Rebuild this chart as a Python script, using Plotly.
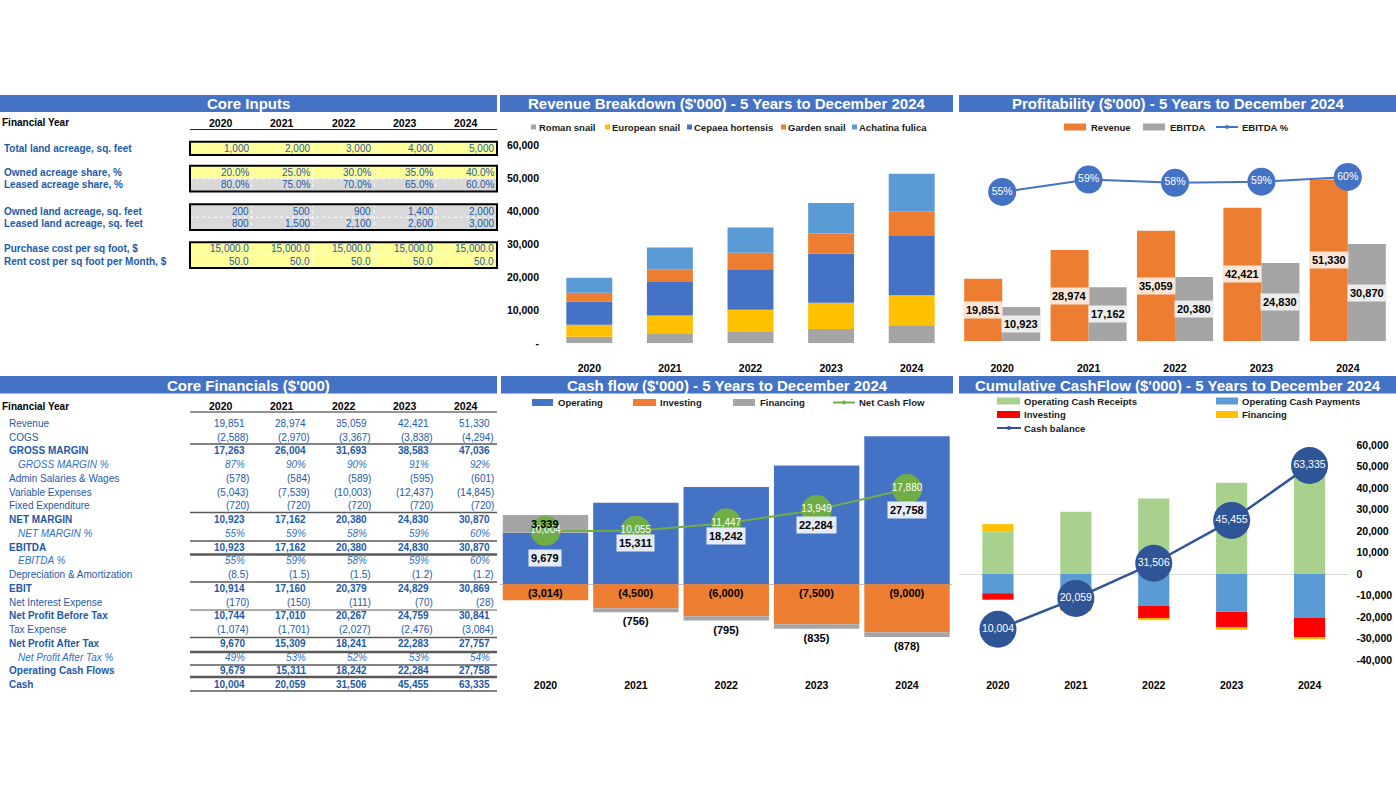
import plotly.graph_objects as go

W, H = 1396, 786
FONT = "Liberation Sans"
BLUE_TXT = "#1E5AA8"

years = ["2020", "2021", "2022", "2023", "2024"]

# ---------------- Core inputs ----------------
input_labels = ["Total land acreage, sq. feet", "Owned acreage share, %", "Leased acreage share, %",
                "Owned land acreage, sq. feet", "Leased land acreage, sq. feet",
                "Purchase cost per sq foot, $", "Rent cost per sq foot per Month, $"]
total_land = [1000, 2000, 3000, 4000, 5000]
owned_share = [20.0, 25.0, 30.0, 35.0, 40.0]
leased_share = [80.0, 75.0, 70.0, 65.0, 60.0]
owned_land = [200, 500, 900, 1400, 2000]
leased_land = [800, 1500, 2100, 2600, 3000]
purchase_cost = [15000.0, 15000.0, 15000.0, 15000.0, 15000.0]
rent_cost = [50.0, 50.0, 50.0, 50.0, 50.0]

# ---------------- Core financials ($'000) ----------------
fin_labels = ["Revenue", "COGS", "GROSS MARGIN", "GROSS MARGIN %", "Admin Salaries & Wages",
              "Variable Expenses", "Fixed Expenditure", "NET MARGIN", "NET MARGIN %", "EBITDA",
              "EBITDA %", "Depreciation & Amortization", "EBIT", "Net Interest Expense",
              "Net Profit Before Tax", "Tax Expense", "Net Profit After Tax", "Net Profit After Tax %",
              "Operating Cash Flows", "Cash"]
revenue = [19851, 28974, 35059, 42421, 51330]
cogs = [-2588, -2970, -3367, -3838, -4294]
gross_margin = [17263, 26004, 31693, 38583, 47036]
gross_margin_pct = [87, 90, 90, 91, 92]
admin_wages = [-578, -584, -589, -595, -601]
variable_exp = [-5043, -7539, -10003, -12437, -14845]
fixed_exp = [-720, -720, -720, -720, -720]
net_margin = [10923, 17162, 20380, 24830, 30870]
net_margin_pct = [55, 59, 58, 59, 60]
ebitda = [10923, 17162, 20380, 24830, 30870]
ebitda_pct = [55, 59, 58, 59, 60]
depreciation = [-8.5, -1.5, -1.5, -1.2, -1.2]
ebit = [10914, 17160, 20379, 24829, 30869]
net_interest = [-170, -150, -111, -70, -28]
profit_before_tax = [10744, 17010, 20267, 24759, 30841]
tax_expense = [-1074, -1701, -2027, -2476, -3084]
profit_after_tax = [9670, 15309, 18241, 22283, 27757]
profit_after_tax_pct = [49, 53, 52, 53, 54]
operating_cash_flows = [9679, 15311, 18242, 22284, 27758]
cash = [10004, 20059, 31506, 45455, 63335]

# ---------------- Revenue breakdown ($'000) ----------------
roman_snail = [2000, 3040, 3644, 4350, 5470]
european_snail = [3650, 5360, 6480, 7900, 9105]
cepaea_hortensis = [7000, 10120, 12250, 14880, 18115]
garden_snail = [2630, 3850, 5060, 6070, 7290]
achatina_fulica = [4571, 6604, 7625, 9221, 11350]
rev_ticks = [0, 10000, 20000, 30000, 40000, 50000, 60000]
rev_ticktext = ["-", "10,000", "20,000", "30,000", "40,000", "50,000", "60,000"]

# ---------------- Cash flow ($'000) ----------------
cf_operating = [9679, 15311, 18242, 22284, 27758]
cf_investing = [-3014, -4500, -6000, -7500, -9000]
cf_financing = [3339, -756, -795, -835, -878]
net_cash_flow = [10004, 10055, 11447, 13949, 17880]

# ---------------- Cumulative cash flow ($'000) ----------------
op_cash_receipts = [19851, 28974, 35059, 42421, 51330]
op_cash_payments = [-8929, -11813, -14679, -17590, -20460]
cum_investing = [-3014, -4500, -6000, -7500, -9000]
cum_financing = [3339, -756, -795, -835, -878]
cash_balance = [10004, 20059, 31506, 45455, 63335]
cum_ticks = [60000, 50000, 40000, 30000, 20000, 10000, 0, -10000, -20000, -30000, -40000]
cum_ticktext = ["60,000", "50,000", "40,000", "30,000", "20,000", "10,000", "0",
                "-10,000", "-20,000", "-30,000", "-40,000"]


def fmt_num(v, dec=0):
    s = f"{abs(v):,.{dec}f}"
    return f"({s})" if v < 0 else s


def px(x):
    return x / W


def py(y):
    return 1 - y / H


shapes = []
annotations = []


def rect(x0, y0, x1, y1, fill=None, line_color=None, lw=0):
    shapes.append(dict(type="rect", xref="paper", yref="paper", x0=px(x0), x1=px(x1),
                       y0=py(y1), y1=py(y0), fillcolor=fill or "rgba(0,0,0,0)",
                       line=dict(color=line_color or "rgba(0,0,0,0)", width=lw), layer="below"))


def line(x0, y0, x1, y1, color, width=1, dash=None, layer="above"):
    d = dict(color=color, width=width)
    if dash:
        d["dash"] = dash
    shapes.append(dict(type="line", xref="paper", yref="paper", x0=px(x0), x1=px(x1),
                       y0=py(y0), y1=py(y1), line=d, layer=layer))


def text(x, y, t, size=10, color="#000000", xanchor="left", bold=False, italic=False, **kw):
    if bold:
        t = f"<b>{t}</b>"
    if italic:
        t = f"<i>{t}</i>"
    annotations.append(dict(x=px(x), y=py(y), xref="paper", yref="paper", text=t, showarrow=False,
                            xanchor=xanchor, yanchor="middle",
                            font=dict(size=size, color=color, family=FONT), **kw))


# ---------------- Section headers ----------------
headers = [(0, 497, 95, 112, "Core Inputs"),
           (500, 953, 95, 112, "Revenue Breakdown ($'000) - 5 Years to December 2024"),
           (959, 1396, 95, 112, "Profitability ($'000) - 5 Years to December 2024"),
           (0, 497, 376, 393.5, "Core Financials ($'000)"),
           (501, 953, 376, 393.5, "Cash flow ($'000) - 5 Years to December 2024"),
           (959, 1396, 376, 393.5, "Cumulative CashFlow ($'000) - 5 Years to December 2024")]
for x0, x1, y0, y1, t in headers:
    rect(x0, y0, x1, y1, fill="#4472C4")
    text((x0 + x1) / 2, (y0 + y1) / 2 + 0.5, t, size=15, color="#FFFFFF", xanchor="center", bold=True)

# ---------------- Core inputs table ----------------
col_left = 190
col_w = 61.4
col_centers = [col_left + col_w * (j + 0.5) for j in range(5)]
col_rights = [249.5, 311, 372, 433.5, 495]

text(0, 123, "Financial Year", size=10, bold=True)
for j, yr in enumerate(years):
    text(col_centers[j], 123, yr, size=10.5, xanchor="center", bold=True)
line(190, 129.5, 497, 129.5, "#262626", 1)

input_values = [total_land, owned_share, leased_share, owned_land, leased_land, purchase_cost, rent_cost]
input_fmts = ["{:,.0f}", "{:.1f}%", "{:.1f}%", "{:,.0f}", "{:,.0f}", "{:,.1f}", "{:,.1f}"]
input_row_y = [148.5, 172.5, 185, 211, 223.5, 249, 261.5]
input_fill = ["#FFFF99", "#FFFF99", "#D9D9D9", "#D9D9D9", "#D9D9D9", "#FFFF99", "#FFFF99"]
for i, lab in enumerate(input_labels):
    y = input_row_y[i]
    rect(190, y - 6.5, 497, y + 6.3, fill=input_fill[i])
    text(2, y, lab, size=10, color=BLUE_TXT, bold=True)
    for j in range(5):
        text(col_rights[j] + 1, y, input_fmts[i].format(input_values[i][j]), size=10,
             color=BLUE_TXT, xanchor="right")
for (a, b) in [(0, 0), (1, 2), (3, 4), (5, 6)]:
    y0, y1 = input_row_y[a] - 6.8, input_row_y[b] + 6.6
    for j in range(1, 5):
        line(col_left + col_w * j, y0, col_left + col_w * j, y1, "#FFFFFF", 1, dash="dot")
    if b > a:
        line(190, (input_row_y[a] + input_row_y[b]) / 2, 497, (input_row_y[a] + input_row_y[b]) / 2,
             "#FFFFFF", 1, dash="dot")
    shapes.append(dict(type="rect", xref="paper", yref="paper", x0=px(190), x1=px(497),
                       y0=py(y1), y1=py(y0), line=dict(color="#000000", width=2), layer="above"))

# ---------------- Core financials table ----------------
fin_values = [revenue, cogs, gross_margin, gross_margin_pct, admin_wages, variable_exp, fixed_exp,
              net_margin, net_margin_pct, ebitda, ebitda_pct, depreciation, ebit, net_interest,
              profit_before_tax, tax_expense, profit_after_tax, profit_after_tax_pct,
              operating_cash_flows, cash]
bold_rows = {2, 7, 9, 12, 14, 16, 18, 19}
italic_rows = {3, 8, 10, 17}
dec_rows = {11}

text(0, 406, "Financial Year", size=10, bold=True)
for j, yr in enumerate(years):
    text(col_centers[j], 406, yr, size=10.5, xanchor="center", bold=True)
line(190, 412, 497, 412, "#262626", 1)

for i, lab in enumerate(fin_labels):
    y = 423.3 + 13.75 * i
    is_b, is_i = i in bold_rows, i in italic_rows
    text(16 if is_i else 7, y, lab, size=10, color="#2F6FC0" if is_i else BLUE_TXT,
         bold=is_b, italic=is_i)
    for j in range(5):
        v = fin_values[i][j]
        if is_i:
            s = f"{v}%"
        else:
            s = fmt_num(v, 1 if i in dec_rows else 0)
        xr = col_rights[j] + 1 if s.endswith(")") else col_rights[j] - 2.7
        text(xr, y, s, size=10, color="#2F6FC0" if is_i else BLUE_TXT, xanchor="right",
             bold=is_b, italic=is_i)

for y, w in [(444, 1.5), (512.5, 1.5), (541, 1.5), (554.5, 2.5), (582, 1.5), (610, 1.2),
             (637.5, 1.5), (652, 2.5), (665, 1.5), (677, 2.5), (691, 1.5)]:
    line(190, y, 497, y, "#595959", w)

# ---------------- Manual legends ----------------
LEG = dict(size=9.5, color="#1A1A1A", bold=True)


def leg_box(x0, x1, y, color, h=6):
    shapes.append(dict(type="rect", xref="paper", yref="paper", x0=px(x0), x1=px(x1),
                       y0=py(y + h / 2), y1=py(y - h / 2), fillcolor=color, line=dict(width=0)))


def leg_line(x0, x1, y, color):
    line(x0, y, x1, y, color, 2)
    shapes.append(dict(type="circle", xref="paper", yref="paper", x0=px((x0 + x1) / 2 - 2),
                       x1=px((x0 + x1) / 2 + 2), y0=py(y + 2), y1=py(y - 2), fillcolor=color,
                       line=dict(width=0)))


for sx, col, lab, tx in [(531, "#A5A5A5", "Roman snail", 537), (605, "#FFC000", "European snail", 610),
                         (687, "#4472C4", "Cepaea hortensis", 692), (781, "#ED7D31", "Garden snail", 786),
                         (852, "#5B9BD5", "Achatina fulica", 857)]:
    leg_box(sx, sx + 5, 127, col, h=5)
    text(tx, 127, lab, **LEG)

leg_box(1064, 1086, 127, "#ED7D31", h=7)
text(1089, 127, "Revenue", **LEG)
leg_box(1143, 1165, 127, "#A5A5A5", h=7)
text(1168, 127, "EBITDA", **LEG)
leg_line(1216, 1238, 127, "#4472C4")
text(1240, 127, "EBITDA %", **LEG)

leg_box(532, 553, 402.5, "#4472C4", h=7)
text(556, 402.5, "Operating", **LEG)
leg_box(633, 656, 402.5, "#ED7D31", h=7)
text(658, 402.5, "Investing", **LEG)
leg_box(733, 755, 402.5, "#A5A5A5", h=7)
text(758, 402.5, "Financing", **LEG)
leg_line(833, 855, 402.5, "#70AD47")
text(857, 402.5, "Net Cash Flow", **LEG)

leg_box(997, 1020, 401, "#A9D18E", h=7)
text(1022, 401, "Operating Cash Receipts", **LEG)
leg_box(1216, 1238, 401, "#5B9BD5", h=7)
text(1240, 401, "Operating Cash Payments", **LEG)
leg_box(997, 1020, 414.5, "#FF0000", h=7)
text(1022, 414.5, "Investing", **LEG)
leg_box(1216, 1238, 414.5, "#FFC000", h=7)
text(1240, 414.5, "Financing", **LEG)
leg_line(997, 1021, 428, "#2F5597")
text(1022, 428, "Cash balance", **LEG)

# ---------------- Traces ----------------
fig = go.Figure()

# Revenue breakdown (stacked)
for name, vals, col in [("Roman snail", roman_snail, "#A5A5A5"), ("European snail", european_snail, "#FFC000"),
                        ("Cepaea hortensis", cepaea_hortensis, "#4472C4"), ("Garden snail", garden_snail, "#ED7D31"),
                        ("Achatina fulica", achatina_fulica, "#5B9BD5")]:
    fig.add_trace(go.Bar(x=years, y=vals, name=name, marker=dict(color=col, line=dict(width=0)),
                         width=0.57, xaxis="x", yaxis="y", hoverinfo="skip"))

# Profitability (grouped)
fig.add_trace(go.Bar(x=years, y=revenue, name="Revenue", marker=dict(color="#ED7D31", line=dict(width=0)),
                     offsetgroup="rev", width=0.44, offset=-0.44, xaxis="x2", yaxis="y2"))
fig.add_trace(go.Bar(x=years, y=ebitda, name="EBITDA", marker=dict(color="#A5A5A5", line=dict(width=0)),
                     offsetgroup="ebitda", width=0.44, offset=0.0, xaxis="x2", yaxis="y2"))
fig.add_trace(go.Scatter(x=years, y=[e / r for e, r in zip(ebitda, revenue)], name="EBITDA %",
                         mode="lines+markers+text", text=[f"{v}%" for v in ebitda_pct],
                         textposition="middle center", textfont=dict(color="#FFFFFF", size=10.5, family=FONT),
                         marker=dict(size=28, color="#4472C4"), line=dict(color="#4472C4", width=2),
                         cliponaxis=False, xaxis="x2", yaxis="y3"))

# Cash flow (relative stack)
fig.add_trace(go.Bar(x=years, y=cf_operating, name="Operating", marker=dict(color="#4472C4", line=dict(width=0)),
                     width=0.945, xaxis="x4", yaxis="y4"))
fig.add_trace(go.Bar(x=years, y=cf_investing, name="Investing", marker=dict(color="#ED7D31", line=dict(width=0)),
                     width=0.945, xaxis="x4", yaxis="y4", text=[fmt_num(v) for v in cf_investing],
                     textposition="inside", insidetextanchor="start", constraintext="none",
                     textfont=dict(color="#000000", size=11, family=FONT, weight="bold")))
fig.add_trace(go.Bar(x=years, y=cf_financing, name="Financing", marker=dict(color="#A5A5A5", line=dict(width=0)),
                     width=0.945, xaxis="x4", yaxis="y4",
                     text=["" if v > 0 else fmt_num(v) for v in cf_financing],
                     textposition="outside", constraintext="none", cliponaxis=False,
                     textfont=dict(color="#000000", size=11, family=FONT, weight="bold")))
fig.add_trace(go.Scatter(x=years, y=net_cash_flow, name="Net Cash Flow", mode="lines+markers+text",
                         text=[fmt_num(v) for v in net_cash_flow], textposition="middle center",
                         textfont=dict(color="#FFFFFF", size=10, family=FONT),
                         marker=dict(size=30, color="#70AD47"), line=dict(color="#70AD47", width=2),
                         cliponaxis=False, xaxis="x4", yaxis="y4"))

# Cumulative cash flow
for name, vals, col in [("Operating Cash Receipts", op_cash_receipts, "#A9D18E"),
                        ("Operating Cash Payments", op_cash_payments, "#5B9BD5"),
                        ("Investing", cum_investing, "#FF0000"),
                        ("Financing", cum_financing, "#FFC000")]:
    fig.add_trace(go.Bar(x=years, y=vals, name=name, marker=dict(color=col, line=dict(width=0)),
                         width=0.4, xaxis="x5", yaxis="y5"))
fig.add_trace(go.Scatter(x=years, y=cash_balance, name="Cash balance", mode="lines+markers+text",
                         text=[fmt_num(v) for v in cash_balance], textposition="middle center",
                         textfont=dict(color="#FFFFFF", size=10.5, family=FONT),
                         marker=dict(size=37, color="#2F5597"), line=dict(color="#2F5597", width=2.5),
                         cliponaxis=False, xaxis="x5", yaxis="y6"))

# ---------------- Bar label annotations (x = category index) ----------------
for i, yr in enumerate(years):
    annotations.append(dict(x=i, y=revenue[i] / 2, xref="x2", yref="y2", xshift=-19, showarrow=False,
                            text=f"<b>{revenue[i]:,}</b>", bgcolor="#FBE5D6", borderpad=2,
                            font=dict(size=11, color="#000000", family=FONT)))
    annotations.append(dict(x=i, y=ebitda[i] / 2, xref="x2", yref="y2", xshift=19, showarrow=False,
                            text=f"<b>{ebitda[i]:,}</b>", bgcolor="#EDEDED", borderpad=2,
                            font=dict(size=11, color="#000000", family=FONT)))
    annotations.append(dict(x=i, y=cf_operating[i] / 2, xref="x4", yref="y4", showarrow=False,
                            text=f"<b>{cf_operating[i]:,}</b>", bgcolor="#E6ECF7", borderpad=2,
                            font=dict(size=11, color="#000000", family=FONT)))
    if cf_financing[i] > 0:
        annotations.append(dict(x=i, y=cf_operating[i] + cf_financing[i] / 2, xref="x4", yref="y4",
                                showarrow=False, text=f"<b>{fmt_num(cf_financing[i])}</b>",
                                font=dict(size=11, color="#000000", family=FONT)))

# ---------------- Layout ----------------
bold_tick = dict(size=10.5, color="#000000", family=FONT, weight="bold")


def dx(a, b):
    return [a / W, b / W]


def dy(top, bottom):
    return [1 - bottom / H, 1 - top / H]


common_x = dict(type="category", showgrid=False, zeroline=False, showline=False, ticks="",
                tickfont=bold_tick, fixedrange=True, range=[-0.5, 4.5], autorange=False)

fig.update_layout(
    width=W, height=H, autosize=False,
    margin=dict(l=0, r=0, t=0, b=0, pad=0, autoexpand=False),
    paper_bgcolor="#FFFFFF", plot_bgcolor="rgba(0,0,0,0)",
    font=dict(family=FONT, color="#000000"),
    showlegend=False, barmode="relative", bargap=0.12,
    xaxis=dict(common_x, domain=dx(549, 952), anchor="y", ticklabelstandoff=17),
    yaxis=dict(domain=dy(145, 343.3), anchor="x", range=[0, 60000], tickvals=rev_ticks,
               ticktext=rev_ticktext, tickfont=bold_tick, showgrid=False, zeroline=False,
               showline=False, ticks="", ticklabelstandoff=9),
    xaxis2=dict(common_x, domain=dx(959, 1391), anchor="y2", ticklabelstandoff=19),
    yaxis2=dict(domain=dy(145, 341.3), anchor="x2", range=[0, 62300], visible=False),
    yaxis3=dict(domain=dy(145, 341.3), anchor="x2", overlaying="y2", range=[0.042, 0.71], visible=False),
    xaxis4=dict(common_x, domain=dx(500.3, 952.2), anchor="y4", ticklabelstandoff=3),
    yaxis4=dict(domain=dy(408.4, 674.9), anchor="x4", range=[-17000, 33000], showgrid=False,
                showticklabels=False, zeroline=True, zerolinecolor="#BFBFBF", zerolinewidth=1,
                showline=False, ticks=""),
    xaxis5=dict(common_x, domain=dx(959, 1348.5), anchor="y5", ticklabelstandoff=17),
    yaxis5=dict(domain=dy(445, 660), anchor="x5", side="right", range=[-40000, 60000],
                tickvals=cum_ticks, ticktext=cum_ticktext, tickfont=bold_tick, showgrid=False,
                zeroline=True, zerolinecolor="#D9D9D9", zerolinewidth=1, showline=False, ticks="",
                ticklabelstandoff=7),
    yaxis6=dict(domain=dy(445, 660), anchor="x5", overlaying="y5", range=[0, 70000], visible=False),
    shapes=shapes,
    annotations=annotations,
)

fig.write_html("out.html", config={"displayModeBar": False},
               post_script="document.body.style.margin='0';document.body.style.overflow='hidden';")
